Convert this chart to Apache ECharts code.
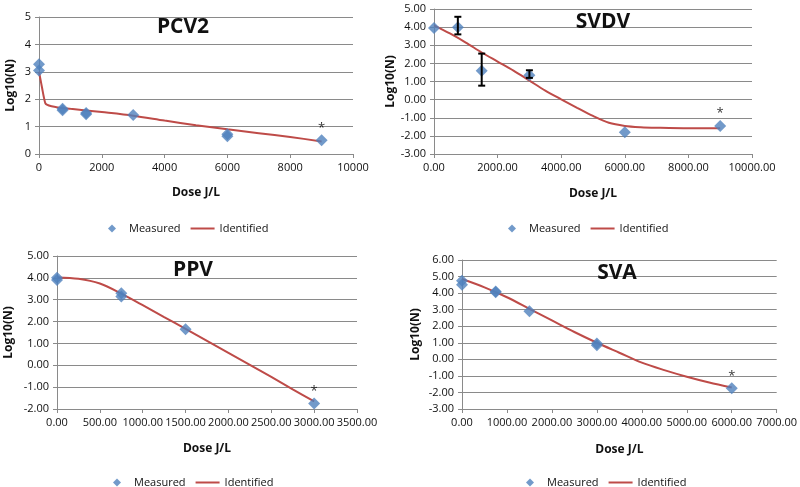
<!DOCTYPE html>
<html><head><meta charset="utf-8">
<script src="https://cdn.jsdelivr.net/npm/echarts@6/dist/echarts.min.js"></script>
<style>html,body{margin:0;padding:0;background:#fff}#c{width:800px;height:487px}</style>
</head><body><div id="c"></div>
<script>
// ---- Data ----
const panelTitles = ['PCV2', 'SVDV', 'PPV', 'SVA'];
const legendNames = ['Measured', 'Identified'];

const pcv2MeasX = [0, 0, 750, 750, 1500, 1500, 3000, 6000, 6000, 9000];
const pcv2MeasY = [3.28, 3.05, 1.65, 1.6, 1.5, 1.45, 1.42, 0.72, 0.65, 0.5];
const pcv2FitX = [0, 50, 100, 150, 200, 250, 400, 600, 1000, 2000, 3000, 4000, 5000, 6000, 7000, 8000, 9000];
const pcv2FitY = [3.0, 2.7, 2.4, 2.1, 1.86, 1.8, 1.74, 1.7, 1.65, 1.53, 1.4, 1.22, 1.05, 0.9, 0.76, 0.62, 0.46];

const svdvMeasX = [0, 750, 1500, 3000, 6000, 9000];
const svdvMeasY = [3.95, 4.0, 1.6, 1.35, -1.8, -1.45];
const svdvErrX = [750, 1500, 3000];
const svdvErrLow = [3.6, 0.77, 1.2];
const svdvErrHigh = [4.57, 2.54, 1.62];
const svdvFitX = [0, 500, 1000, 1500, 2000, 2500, 3000, 3500, 4000, 4500, 5000, 5500, 6000, 6500, 7000, 8000, 9000];
const svdvFitY = [4.1, 3.65, 3.15, 2.6, 2.1, 1.6, 1.05, 0.5, 0.02, -0.45, -0.9, -1.28, -1.45, -1.52, -1.55, -1.58, -1.58];

const ppvMeasX = [0, 0, 750, 750, 1500, 3000];
const ppvMeasY = [4.0, 3.9, 3.3, 3.15, 1.65, -1.75];
const ppvFitX = [0, 250, 500, 750, 1000, 1250, 1500, 1750, 2000, 2250, 2500, 2750, 3000];
const ppvFitY = [4.02, 3.96, 3.74, 3.28, 2.75, 2.2, 1.67, 1.12, 0.57, 0.02, -0.53, -1.1, -1.65];

const svaMeasX = [0, 0, 750, 750, 1500, 3000, 3000, 6000];
const svaMeasY = [4.75, 4.5, 4.1, 4.05, 2.9, 0.95, 0.85, -1.75];
const svaFitX = [0, 500, 1000, 1500, 2000, 2500, 3000, 3500, 4000, 4500, 5000, 5500, 6000];
const svaFitY = [4.85, 4.35, 3.75, 3.05, 2.35, 1.65, 1.0, 0.4, -0.2, -0.65, -1.05, -1.4, -1.7];

const xTicks = [[0, 10000, 2000], [0, 10000, 2000], [0, 3500, 500], [0, 7000, 1000]];
const yTicks = [[0, 5, 1], [-3, 5, 1], [-2, 5, 1], [-3, 6, 1]];
const decimals = [0, 2, 2, 2];

// ---- Build chart ----
const FONT = "'Open Sans', 'Noto Sans', sans-serif";
const RED = '#BE4B48', BLUE = '#4F81BD', GRID = '#8a8a8a', TXT = '#111';
const zip = (a, b) => a.map((v, i) => [v, b[i]]);

const meas = [zip(pcv2MeasX, pcv2MeasY), zip(svdvMeasX, svdvMeasY), zip(ppvMeasX, ppvMeasY), zip(svaMeasX, svaMeasY)];
const fits = [zip(pcv2FitX, pcv2FitY), zip(svdvFitX, svdvFitY), zip(ppvFitX, ppvFitY), zip(svaFitX, svaFitY)];

const grids = [
  {left: 39, top: 17, width: 314, height: 137},
  {left: 434, top: 9, width: 318, height: 145},
  {left: 57, top: 256, width: 300, height: 153},
  {left: 462, top: 260, width: 315, height: 149}
];
const yNameGap = [22, 22, 42, 40];
const xNameGap = [33, 34, 34, 35];
const legendPos = [[103, 218], [503, 218], [108, 472], [521, 472]];
const titlePos = [[183, 27], [603, 22], [193, 270], [617, 273]];

const DIAMOND = 'path://M5,0L10,5L5,10L0,5Z';
const LINEICON = 'path://M0,0H24V2H0Z';

const xAxes = [], yAxes = [], series = [], legends = [], graphics = [];
for (let i = 0; i < 4; i++) {
  const d = decimals[i];
  xAxes.push({
    type: 'value', gridIndex: i, min: xTicks[i][0], max: xTicks[i][1], interval: xTicks[i][2],
    name: 'Dose J/L', nameLocation: 'middle', nameGap: xNameGap[i],
    nameTextStyle: {fontFamily: FONT, fontWeight: 'bold', fontSize: 12, color: TXT},
    axisLine: {show: true, onZero: false, lineStyle: {color: GRID}},
    axisTick: {show: true, length: 4, lineStyle: {color: GRID}},
    splitLine: {show: false},
    axisLabel: {fontFamily: FONT, fontSize: 11, color: TXT, margin: 8, formatter: v => v.toFixed(d)}
  });
  yAxes.push({
    type: 'value', gridIndex: i, min: yTicks[i][0], max: yTicks[i][1], interval: yTicks[i][2],
    name: 'Log10(N)', nameLocation: 'middle', nameGap: yNameGap[i], nameRotate: 90,
    nameTextStyle: {fontFamily: FONT, fontWeight: 'bold', fontSize: 12, color: TXT},
    axisLine: {show: true, lineStyle: {color: GRID}},
    axisTick: {show: true, length: 4, lineStyle: {color: GRID}},
    splitLine: {show: true, lineStyle: {color: GRID, width: 1}},
    axisLabel: {fontFamily: FONT, fontSize: 11, color: TXT, margin: 8, formatter: v => v.toFixed(d)}
  });
  series.push({
    type: 'line', name: legendNames[1], xAxisIndex: i, yAxisIndex: i, data: fits[i],
    symbol: 'none', smooth: 0.3, lineStyle: {color: RED, width: 2}, itemStyle: {color: RED}, z: 2
  });
  const md = meas[i].map((p, k, arr) => k === arr.length - 1
    ? {value: p, label: {show: true, formatter: '*', position: 'top', distance: 0, fontSize: 13, color: '#000', fontFamily: FONT}}
    : p);
  series.push({
    type: 'scatter', name: legendNames[0], xAxisIndex: i, yAxisIndex: i, data: md,
    symbol: 'diamond', symbolSize: 12, itemStyle: {color: BLUE}, z: 3
  });
  legends.push({
    data: [{name: legendNames[0], icon: DIAMOND}, {name: legendNames[1], icon: LINEICON}],
    left: legendPos[i][0], top: legendPos[i][1], itemWidth: 24, itemHeight: 8, itemGap: 10,
    symbolKeepAspect: true, selectedMode: false,
    textStyle: {fontFamily: FONT, fontSize: 11, color: TXT}
  });
  graphics.push({
    type: 'text', x: titlePos[i][0], y: titlePos[i][1], z: 10,
    style: {text: panelTitles[i], font: "bold 21px " + FONT, fill: '#111', textAlign: 'center', textVerticalAlign: 'middle'}
  });
}

// Error bars on SVDV
series.push({
  type: 'custom', name: 'err', xAxisIndex: 1, yAxisIndex: 1, z: 4,
  data: svdvErrX.map((x, k) => [x, svdvErrLow[k], svdvErrHigh[k]]),
  renderItem: function (params, api) {
    const lo = api.coord([api.value(0), api.value(1)]);
    const hi = api.coord([api.value(0), api.value(2)]);
    const w = 3.5;
    const st = {stroke: '#000', lineWidth: 2};
    return {type: 'group', children: [
      {type: 'line', shape: {x1: lo[0], y1: lo[1], x2: hi[0], y2: hi[1]}, style: st},
      {type: 'line', shape: {x1: lo[0] - w, y1: lo[1], x2: lo[0] + w, y2: lo[1]}, style: st},
      {type: 'line', shape: {x1: hi[0] - w, y1: hi[1], x2: hi[0] + w, y2: hi[1]}, style: st}
    ]};
  }
});

const chart = echarts.init(document.getElementById('c'), null, {renderer: 'canvas'});
chart.setOption({
  animation: false,
  backgroundColor: '#fff',
  grid: grids,
  xAxis: xAxes,
  yAxis: yAxes,
  legend: legends,
  series: series,
  graphic: graphics
});
</script></body></html>
